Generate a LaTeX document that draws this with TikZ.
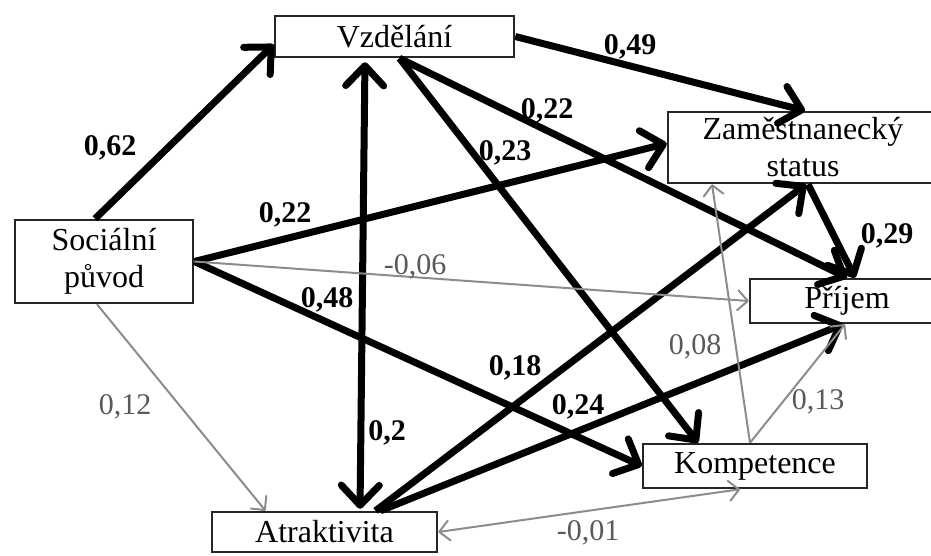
\documentclass[tikz,border=0pt]{standalone}
\usepackage{fontspec}
\setmainfont{Liberation Serif}
\usetikzlibrary{arrows.meta}

\tikzset{
  box/.style={draw=black!85,line width=2.5pt,inner sep=0pt,align=center,
    font=\fontsize{32}{37}\selectfont},
  silna/.style={line width=7pt,>={Straight Barb[round,length=20pt,width=38pt]}},
  slaba/.style={draw=black!45,line width=2pt,>={Straight Barb[round,length=10pt,width=20pt]}},
  lb/.style={font=\fontsize{30}{30}\selectfont\bfseries},
  lg/.style={font=\fontsize{30}{30}\selectfont,text=black!65},
}

\begin{document}
\begin{tikzpicture}[x=1pt,y=-1pt]
\useasboundingbox (0,0) rectangle (931,555);

% promenne
\node[box,minimum width=239,minimum height=41] (vzd) at (394.5,36.5) {Vzdělání};
\node[box,minimum width=178,minimum height=83] (soc) at (104,261.5) {Sociální\\původ};
\node[box,minimum width=270,minimum height=71] (zam) at (803,147.5) {Zaměstnanecký\\status};
\node[box,minimum width=194,minimum height=44] (pri) at (847,301) {Příjem};
\node[box,minimum width=224,minimum height=44] (kom) at (755,466) {Kompetence};
\node[box,minimum width=225,minimum height=40] (atr) at (324.5,532) {Atraktivita};

% silne cesty
\draw[silna,->] ([xshift=-9pt]soc.north) -- ([yshift=-8pt]vzd.west);
\draw[silna,->] (soc.east) -- ([yshift=4pt]zam.west);
\draw[silna,->] (soc.east) -- (kom.west);
\draw[silna,<->,shorten <=4pt,shorten >=2pt] ([xshift=-29.5pt]vzd.south) -- ([xshift=35.5pt]atr.north);
\draw[silna,->] (vzd.east) -- ([xshift=2pt]zam.north);
\draw[silna,->] ([xshift=5pt]vzd.south) -- ([xshift=0pt]pri.north);
\draw[silna,->] ([xshift=5pt]vzd.south) -- ([xshift=-57pt]kom.north);
\draw[silna,->] ([xshift=5pt]zam.south) -- ([xshift=8pt]pri.north);
\draw[silna,->] ([xshift=51pt]atr.north) -- ([xshift=3pt]zam.south);
\draw[silna,->] ([xshift=56pt]atr.north) -- ([xshift=-4pt]pri.south);

% slabe cesty
\draw[slaba,->] (soc.east) -- (pri.west);
\draw[slaba,->] ([xshift=-7pt]soc.south) -- ([xshift=-59pt]atr.north);
\draw[slaba,->] ([xshift=-5pt]kom.north) -- ([xshift=-91pt]zam.south);
\draw[slaba,->] ([xshift=-5pt]kom.north) -- ([xshift=-2pt]pri.south);
\draw[slaba,<->] (atr.east) -- ([xshift=-15pt]kom.south);

% koeficienty
\node[lb] (l62) at (110,148) {0,62};
\node[lb] (l22a) at (285,215) {0,22};
\node[lb] (l48) at (327,300) {0,48};
\node[lb] (l2) at (387,433) {0,2};
\node[lb] (l49) at (630,47) {0,49};
\node[lb] (l22b) at (547,111) {0,22};
\node[lb] (l23) at (505,153) {0,23};
\node[lb] (l29) at (887,236) {0,29};
\node[lb] (l18) at (515,368) {0,18};
\node[lb] (l24) at (578,407) {0,24};
\node[lg] (l06) at (415,267) {-0,06};
\node[lg] (l12) at (125,407) {0,12};
\node[lg] (l08) at (695,347) {0,08};
\node[lg] (l13) at (818,402) {0,13};
\node[lg] (l01) at (588,533) {-0,01};
\end{tikzpicture}
\end{document}
